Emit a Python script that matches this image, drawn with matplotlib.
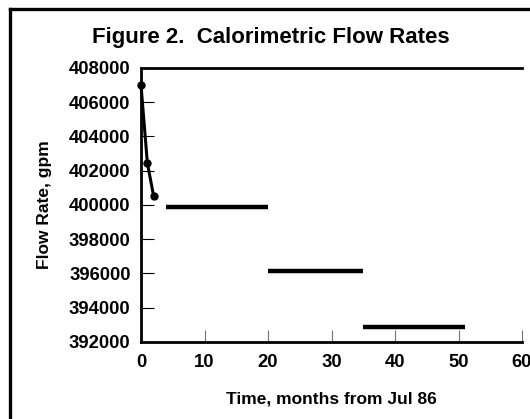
import matplotlib.pyplot as plt
from matplotlib.lines import Line2D

plt.rcParams['font.family'] = ['Liberation Sans', 'DejaVu Sans']
plt.rcParams['font.weight'] = 'bold'

# early measured points (months, gpm)
early_t = [0, 1, 2]
early_q = [407000, 402450, 400500]

# later averaged periods: start, end, flow rate
seg_start = [4, 20, 35]
seg_end = [20, 35, 51]
seg_q = [399900, 396150, 392900]

yticks = [392000, 394000, 396000, 398000, 400000, 402000, 404000, 406000, 408000]
xticks = [0, 10, 20, 30, 40, 50, 60]

fig = plt.figure(figsize=(5.30, 4.19), dpi=100)
ax = fig.add_axes([141/530, 1 - 342/419, (522 - 141)/530, (342 - 68)/419])

ax.plot(early_t, early_q, color='black', lw=2.2, marker='o', ms=5, clip_on=False)
ax.hlines(seg_q, seg_start, seg_end, colors='black', lw=3.2)

ax.set_xlim(0, 60)
ax.set_ylim(392000, 408000)
ax.set_xticks(xticks)
ax.set_yticks(yticks)
ax.tick_params(axis='y', direction='in', length=9, width=0.8, color='black',
               labelsize=13.3, pad=7.5)
ax.tick_params(axis='x', direction='in', length=9, width=0.8, color='0.45',
               labelsize=13.3, pad=8.5)
for lab in ax.get_xticklabels() + ax.get_yticklabels():
    lab.set_fontweight('bold')

ax.spines['right'].set_visible(False)
for s in ('left', 'top', 'bottom'):
    ax.spines[s].set_linewidth(2.0)

ax.set_xlabel('Time, months from Jul 86', fontsize=12.5, fontweight='bold', labelpad=15)
ax.set_ylabel('Flow Rate, gpm', fontsize=12.5, fontweight='bold', labelpad=12)

fig.text(271/530, 1 - 38/419, 'Figure 2.  Calorimetric Flow Rates', ha='center', va='center',
         fontsize=16, fontweight='bold')

# outer frame (right and bottom edges fall outside the picture)
fig.add_artist(Line2D([10/530, 10/530], [0, 1 - 9/419], color='black', lw=2.4,
                      transform=fig.transFigure, solid_capstyle='projecting'))
fig.add_artist(Line2D([10/530, 1.0], [1 - 9/419, 1 - 9/419], color='black', lw=2.4,
                      transform=fig.transFigure, solid_capstyle='projecting'))

fig.savefig('out.png', dpi=100)
